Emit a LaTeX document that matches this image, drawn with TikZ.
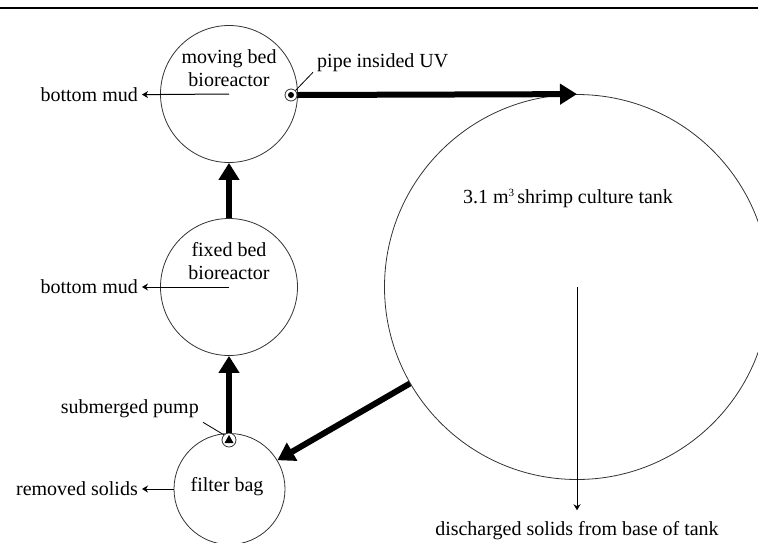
\documentclass[tikz,border=0pt]{standalone}
\usepackage{fontspec}
\setmainfont{Liberation Serif}
\usetikzlibrary{arrows.meta}
\begin{document}
\begin{tikzpicture}[x=1pt,y=-1pt,font=\fontsize{20}{23}\selectfont,
	vessel/.style={circle,draw=black!80,line width=0.8pt,inner sep=0pt},
	flow/.style={line width=6pt,-{Triangle[length=17pt,width=20pt]}},
	drain/.style={line width=1pt,-{Stealth[length=6pt,width=7pt]}},
	lbl/.style={inner sep=4pt}]
		\useasboundingbox (0,0) rectangle (758,542);
		\draw[line width=2pt](0,8)--(758,8);
		% vessels
		\node[vessel,minimum size=137pt](mbbr) at (229,94){};
		\node[vessel,minimum size=137pt](fbbr) at (229,287){};
		\node[vessel,minimum size=111pt](bag) at (229.5,489){};
		\node[vessel,minimum size=385pt](tank) at (577,287){};
		\node[vessel,minimum size=12pt](uv) at (291,95){};
		\fill (uv) circle (3pt);
		\node[vessel,minimum size=14pt,fill=white](pump) at (229,440){};
		\fill ([shift={(-4.5,3)}]pump.center)--++(9,0)--++(-4.5,-8)--cycle;
		% texts
		\node[align=center] at (229,68.5){moving bed\\bioreactor};
		\node[align=center] at (229,261){fixed bed\\bioreactor};
		\node at (227,487){filter bag};
		\node(tanklbl) at (568,198){3.1 m\raisebox{7pt}{\fontsize{11}{11}\selectfont 3}\,shrimp culture tank};
		\node[lbl,anchor=east](mud1) at (142,95){bottom mud};
		\node[lbl,anchor=east](mud2) at (142,287){bottom mud};
		\node[lbl,anchor=east](solids) at (142,489){removed solids};
		\node[lbl,anchor=west](uvlbl) at (313,63){pipe insided UV};
		\node[lbl,anchor=east](pumplbl) at (203,409){submerged pump};
		\node(dis) at (577,531){discharged solids from base of tank};
		% leaders
		\draw[line width=0.8pt](uv.north east)--([yshift=4pt]uvlbl.south west);
		\draw[line width=0.8pt](pumplbl.south east)--(pump.north west);
		% flows
		\draw[flow](uv.east)--(tank.north);
		\draw[flow](fbbr.north)--(mbbr.south);
		\draw[flow](pump.north)--(fbbr.south);
		\draw[flow](tank.210)--(bag.31);
		% drains
		\draw[drain](mbbr.center)--(mud1);
		\draw[drain](fbbr.center)--(mud2);
		\draw[drain](bag.west)--(solids);
		\draw[drain](tank.center)--([yshift=8pt]dis.north);
	\end{tikzpicture}
\end{document}
